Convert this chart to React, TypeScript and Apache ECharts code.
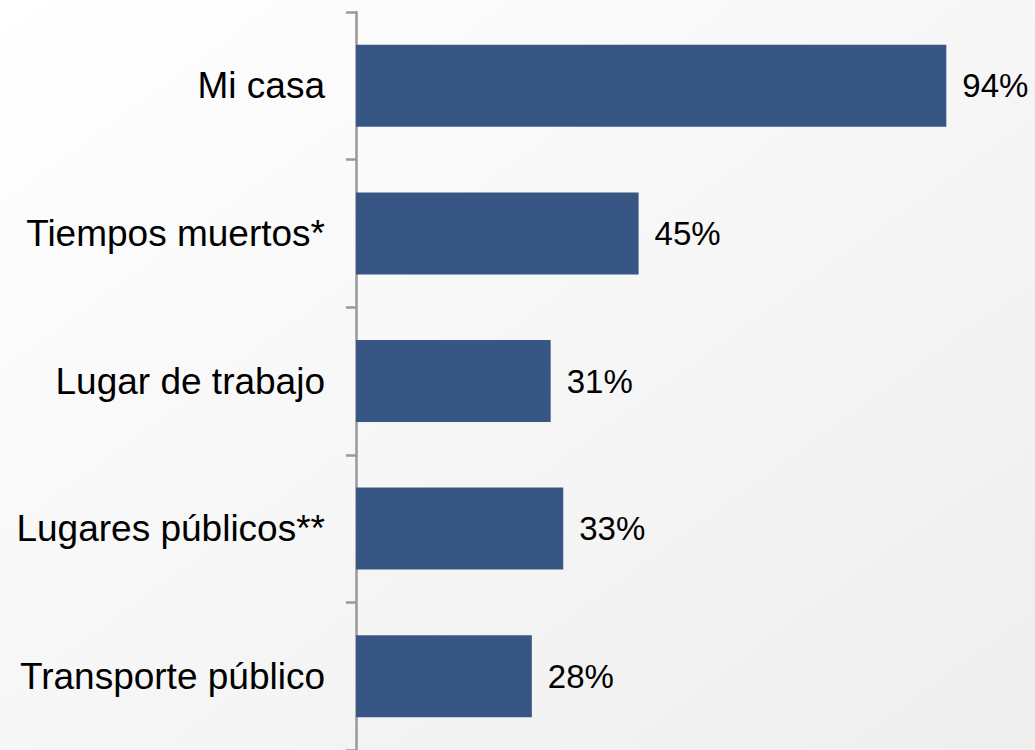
import React, { useEffect, useRef } from "react";
import * as echarts from "echarts";

const categories = [
  "Mi casa",
  "Tiempos muertos*",
  "Lugar de trabajo",
  "Lugares públicos**",
  "Transporte público",
];
const values = [94, 45, 31, 33, 28];

export default function App() {
  const ref = useRef<HTMLDivElement>(null);
  useEffect(() => {
    const el = ref.current!;
    const chart = echarts.init(el, null, { renderer: "svg" });
    chart.setOption({
      animation: false,
      backgroundColor: {
        type: "linear",
        x: 0,
        y: 0,
        x2: 1,
        y2: 1,
        colorStops: [
          { offset: 0, color: "#ffffff" },
          { offset: 1, color: "#eeeeee" },
        ],
      },
      grid: { left: 356, top: 12, width: 628, height: 739 },
      xAxis: {
        type: "value",
        min: 0,
        max: 100,
        show: false,
      },
      yAxis: {
        type: "category",
        data: categories,
        inverse: true,
        axisLine: { show: true, lineStyle: { color: "#999999", width: 2.5 } },
        axisTick: { show: true, length: 10, lineStyle: { color: "#999999", width: 2.5 } },
        axisLabel: {
          margin: 31,
          color: "#000000",
          fontSize: 37,
          fontFamily: "'Liberation Sans', Arial, sans-serif",
        },
        splitLine: { show: false },
      },
      series: [
        {
          type: "bar",
          data: values,
          barWidth: 82,
          itemStyle: { color: "#375683" },
          label: {
            show: true,
            position: "right",
            distance: 16,
            formatter: "{c}%",
            color: "#000000",
            fontSize: 33,
            fontFamily: "'Liberation Sans', Arial, sans-serif",
          },
        },
      ],
    });
    return () => chart.dispose();
  }, []);
  return (
    <div
      ref={ref}
      style={{ position: "absolute", left: 0, top: 0, width: 1035, height: 750 }}
    />
  );
}
